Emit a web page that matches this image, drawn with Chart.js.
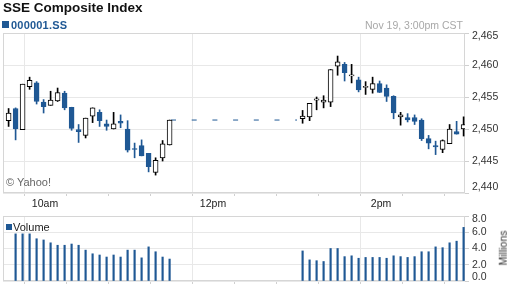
<!DOCTYPE html>
<html lang="en">
<head>
<meta charset="UTF-8" />
<title>SSE Composite Index</title>
<script src="https://cdn.jsdelivr.net/npm/chart.js@4.4.0/dist/chart.umd.min.js"></script>
<style>
  body { margin: 0; background: #fff; font-family: "Liberation Sans", Arial, sans-serif; }
  #wrap { position: relative; width: 512px; height: 288px; overflow: hidden; }
  canvas { position: absolute; left: 0; }
  .txt { position: absolute; line-height: 1; white-space: nowrap; z-index: 2; }
  #title { left: 3px; top: 1px; font-size: 13.5px; font-weight: bold; color: #111; }
  #symbol { left: 11px; top: 19.5px; font-size: 11px; font-weight: bold; color: #1f5894; letter-spacing: 0.2px; }
  #date { right: 49px; top: 19.5px; font-size: 10.5px; color: #a8a8a8; }
  #copy { left: 6px; top: 177px; font-size: 11px; color: #666; }
  #vol { left: 13px; top: 221.5px; font-size: 11px; color: #222; }
  #millions { left: 503px; top: 248px; font-size: 10.5px; color: #333; transform: translate(-50%, -50%) rotate(-90deg); }
  .sq { position: absolute; background: #1f5894; z-index: 2; }
</style>
</head>
<body>
<div id="wrap">
  <canvas id="priceChart" width="512" height="212" style="top:0"></canvas>
  <canvas id="volChart" width="512" height="80" style="top:208px"></canvas>
  <div class="txt" id="title">SSE Composite Index</div>
  <div class="sq" style="left:2px;top:21px;width:7px;height:7px"></div>
  <div class="txt" id="symbol">000001.SS</div>
  <div class="txt" id="date">Nov 19, 3:00pm CST</div>
  <div class="txt" id="copy">© Yahoo!</div>
  <div class="sq" style="left:6px;top:224px;width:6px;height:6px"></div>
  <div class="txt" id="vol">Volume</div>
  <div class="txt" id="millions">Millions</div>
</div>
<script>
  // 5-minute bars, Nov 19
  const barTimes = [
    "09:35", "09:40", "09:45", "09:50", "09:55", "10:00", "10:05", "10:10",
    "10:15", "10:20", "10:25", "10:30", "10:35", "10:40", "10:45", "10:50",
    "10:55", "11:00", "11:05", "11:10", "11:15", "11:20", "11:25", "11:30",
    "13:05", "13:10", "13:15", "13:20", "13:25", "13:30", "13:35", "13:40",
    "13:45", "13:50", "13:55", "14:00", "14:05", "14:10", "14:15", "14:20",
    "14:25", "14:30", "14:35", "14:40", "14:45", "14:50", "14:55", "15:00",
  ];
  const opens = [
    2451.3, 2453.2, 2449.9, 2456.6, 2457.2, 2454.2, 2453.7, 2454.4,
    2455.6, 2453.4, 2449.9, 2449.0, 2452.0, 2452.6, 2450.8, 2450.0,
    2451.2, 2450.0, 2446.9, 2447.4, 2446.2, 2443.2, 2445.5, 2447.5,
    2451.6, 2451.9, 2454.5, 2454.2, 2454.2, 2459.8, 2460.1, 2458.3,
    2457.7, 2456.5, 2456.2, 2457.1, 2456.4, 2455.1, 2451.9, 2451.8,
    2451.8, 2451.4, 2448.5, 2447.4, 2446.8, 2447.7, 2449.6, 2450.0,
  ];
  const highs = [
    2453.2, 2453.3, 2457.0, 2458.1, 2457.4, 2454.6, 2455.9, 2456.4,
    2455.9, 2453.4, 2450.7, 2451.7, 2453.3, 2453.0, 2451.4, 2452.6,
    2452.2, 2451.3, 2447.8, 2448.3, 2446.2, 2445.5, 2448.2, 2451.4,
    2452.9, 2454.0, 2455.0, 2455.2, 2459.3, 2461.4, 2460.4, 2460.1,
    2458.1, 2457.4, 2458.1, 2457.5, 2456.9, 2455.2, 2452.6, 2452.4,
    2452.2, 2451.6, 2449.0, 2448.1, 2448.3, 2450.7, 2451.2, 2451.9,
  ];
  const lows = [
    2450.4, 2448.3, 2449.9, 2456.2, 2453.9, 2452.5, 2453.7, 2454.3,
    2453.0, 2449.8, 2447.9, 2448.6, 2451.0, 2450.4, 2449.8, 2450.0,
    2450.2, 2446.4, 2445.5, 2445.8, 2443.3, 2442.8, 2445.0, 2447.5,
    2450.9, 2451.3, 2453.0, 2453.3, 2453.5, 2458.4, 2457.5, 2457.2,
    2455.8, 2455.4, 2455.6, 2455.7, 2454.3, 2451.6, 2450.6, 2451.1,
    2450.7, 2448.2, 2446.9, 2446.0, 2446.3, 2447.7, 2449.2, 2448.9,
  ];
  const closes = [
    2452.5, 2450.0, 2457.0, 2457.6, 2454.3, 2453.5, 2454.5, 2455.7,
    2453.3, 2450.1, 2449.6, 2451.7, 2453.3, 2451.3, 2450.4, 2450.8,
    2450.9, 2446.7, 2446.8, 2445.8, 2444.1, 2445.1, 2447.7, 2451.4,
    2452.0, 2454.0, 2454.7, 2454.5, 2459.3, 2460.5, 2458.8, 2458.4,
    2456.1, 2456.6, 2457.1, 2455.7, 2455.1, 2452.5, 2452.2, 2451.4,
    2451.2, 2448.5, 2447.8, 2447.2, 2448.2, 2450.0, 2449.2, 2450.7,
  ];
  // volume in millions
  const volumes = [
    null, 5.8, 5.8, 5.8, 5.2, 5.05, 4.7, 4.4,
    4.4, 4.55, 4.4, 3.8, 3.35, 3.2, 2.95, 3.2,
    2.95, 3.8, 3.8, 2.85, 4.2, 3.6, 2.95, 2.7,
    3.7, 2.6, 2.5, 2.4, 4.0, 4.0, 3.0, 3.1,
    2.8, 2.9, 2.9, 2.9, 2.8, 3.1, 3.0, 2.9,
    3.0, 3.6, 3.6, 4.2, 4.1, 4.7, 4.9, 6.6,
  ];
  const priceTicks = [2440, 2445, 2450, 2455, 2460, 2465];
  const volumeTicks = [0, 2, 4, 6, 8];
  const timeTicks = ["09:30", "10:00", "10:30", "11:00", "11:30", "12:00",
    "12:30", "13:00", "13:30", "14:00", "14:30", "15:00"];
  const timeLabels = { "10:00": "10am", "12:00": "12pm", "14:00": "2pm" };
  const lunchFrom = "11:30";
  const lunchTo = "13:00";

  const BLUE = "#1f5894";
  const GRID = "#e8e8e8";
  const FONT = { family: "'Liberation Sans', Arial, sans-serif", size: 10.5 };

  function minutes(t) {
    const p = t.split(":").map(Number);
    return p[0] * 60 + p[1] - (9 * 60 + 30);
  }
  // candles sit a little before the bar's closing stamp
  const xs = barTimes.map((t) => minutes(t) - 1);
  const up = closes.map((c, i) => c >= opens[i]);
  const tickMinutes = timeTicks.map(minutes);
  const majorMinutes = Object.keys(timeLabels).map(minutes);

  function withComma(v) {
    return String(v).replace(/\B(?=(\d{3})+(?!\d))/g, ",");
  }

  const plotBox = {
    id: "plotBox",
    beforeDatasetsDraw(chart) {
      const a = chart.chartArea;
      const c = chart.ctx;
      c.save();
      c.strokeStyle = "#d6d6d6";
      c.lineWidth = 1;
      c.strokeRect(Math.round(a.left) + 0.5, Math.round(a.top) + 0.5,
        Math.round(a.right - a.left) - 1, Math.round(a.bottom - a.top) - 1);
      c.restore();
    },
  };

  // right-hand labels; the end ones are kept inside the panel like the original
  function sideLabels(fmt, nudgeTop, nudgeBottom) {
    return {
      id: "sideLabels",
      afterDraw(chart) {
        const s = chart.scales.y;
        const c = chart.ctx;
        c.save();
        c.font = FONT.size + "px " + FONT.family;
        c.fillStyle = "#333";
        c.textAlign = "left";
        c.textBaseline = "middle";
        s.ticks.forEach((t) => {
          let y = s.getPixelForValue(t.value);
          if (t.value === s.max) y += nudgeTop;
          if (t.value === s.min) y -= nudgeBottom;
          c.fillText(fmt(t.value), s.left + 7, y);
        });
        c.restore();
      },
    };
  }

  function timeAxis(showLabels, height) {
    return {
      type: "linear",
      min: 0,
      max: 330,
      offset: false,
      afterBuildTicks: (s) => { s.ticks = tickMinutes.map((v) => ({ value: v })); },
      afterFit: (s) => { s.height = height; s.paddingLeft = 0; s.paddingRight = 0; },
      border: { display: false },
      grid: {
        color: (ctx) => (ctx.tick && majorMinutes.includes(ctx.tick.value) ? GRID : "rgba(0,0,0,0)"),
        tickColor: "#d0d0d0",
        tickLength: 3,
      },
      ticks: {
        autoSkip: false,
        maxRotation: 0,
        padding: 2,
        color: "#222",
        font: FONT,
        callback: (v) => {
          if (!showLabels) return "";
          const i = tickMinutes.indexOf(v);
          return timeLabels[timeTicks[i]] || "";
        },
      },
    };
  }

  function valueAxis(min, max, ticks) {
    return {
      position: "right",
      min: min,
      max: max,
      afterBuildTicks: (s) => { s.ticks = ticks.map((v) => ({ value: v })); },
      afterFit: (s) => { s.width = 47; s.paddingTop = 0; s.paddingBottom = 0; },
      border: { display: false },
      grid: { color: GRID, tickColor: "#d0d0d0", tickLength: 4 },
      ticks: { display: false },
    };
  }

  new Chart(document.getElementById("priceChart"), {
    type: "bar",
    data: {
      datasets: [
        {
          label: "body",
          order: 0,
          grouped: false,
          data: xs.map((x, i) => ({ x: x, y: [opens[i], closes[i]] })),
          backgroundColor: up.map((u) => (u ? "#fff" : BLUE)),
          borderColor: up.map((u) => (u ? "#000" : BLUE)),
          borderWidth: 1,
          borderSkipped: false,
          barThickness: 5,
          minBarLength: 1,
        },
        {
          label: "wick",
          order: 1,
          grouped: false,
          data: xs.map((x, i) => ({ x: x, y: [lows[i], highs[i]] })),
          backgroundColor: up.map((u) => (u ? "#000" : BLUE)),
          borderWidth: 0,
          barThickness: 1,
        },
        {
          type: "line",
          label: "lunch",
          order: 2,
          data: [
            { x: minutes(lunchFrom), y: closes[barTimes.indexOf(lunchFrom)] },
            { x: minutes(lunchTo), y: closes[barTimes.indexOf(lunchFrom)] },
          ],
          borderColor: BLUE,
          borderWidth: 1,
          borderDash: [5, 15.7],
          pointRadius: 0,
        },
      ],
    },
    options: {
      responsive: false,
      animation: false,
      layout: { padding: { left: 3, top: 33, right: 0, bottom: 0 } },
      plugins: { legend: { display: false }, tooltip: { enabled: false } },
      scales: {
        x: timeAxis(true, 19),
        y: valueAxis(2440, 2465, priceTicks),
      },
    },
    plugins: [plotBox, sideLabels(withComma, 3, 6)],
  });

  new Chart(document.getElementById("volChart"), {
    type: "bar",
    data: {
      datasets: [
        {
          label: "Volume",
          data: xs.map((x, i) => ({ x: x, y: volumes[i] })),
          backgroundColor: BLUE,
          barThickness: 1.5,
        },
      ],
    },
    options: {
      responsive: false,
      animation: false,
      layout: { padding: { left: 3, top: 8, right: 0, bottom: 0 } },
      plugins: { legend: { display: false }, tooltip: { enabled: false } },
      scales: {
        x: timeAxis(false, 7),
        y: valueAxis(0, 8, volumeTicks),
      },
    },
    plugins: [plotBox, sideLabels((v) => v.toFixed(1), 3, 4)],
  });
</script>
</body>
</html>
